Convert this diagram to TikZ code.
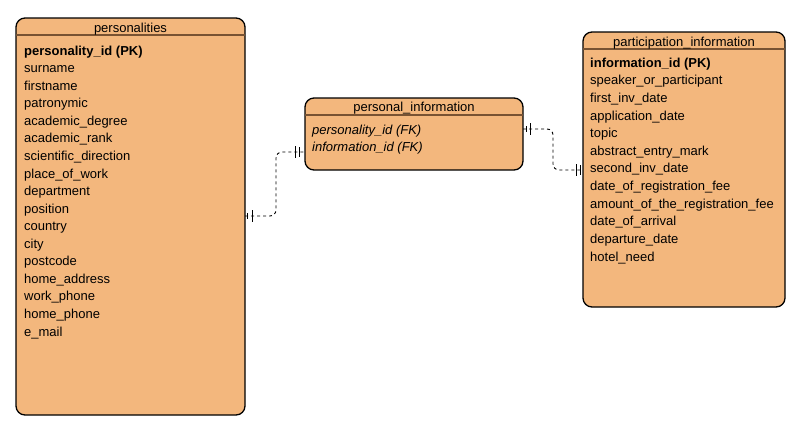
\documentclass[tikz,border=0pt]{standalone}
\usepackage{fontspec}
\setmainfont{Liberation Sans}
\definecolor{tablefill}{RGB}{243,183,125}
\definecolor{headline}{RGB}{120,82,50}
\tikzset{
  table/.style={draw=black, fill=tablefill, line width=1.3pt, rounded corners=9pt},
  sep/.style={draw=headline, line width=1.3pt},
  title/.style={anchor=mid, inner sep=0pt, font=\fontsize{13}{15}\selectfont},
  field/.style={anchor=mid west, inner sep=0pt, font=\fontsize{13}{15}\selectfont},
  pk/.style={field, font=\fontsize{13}{15}\selectfont\bfseries},
  fk/.style={field, font=\fontsize{13}{15}\selectfont\itshape},
  rel/.style={draw=black, line width=0.9pt, dashed, dash pattern=on 3pt off 3pt, rounded corners=6pt},
  bar/.style={draw=black, line width=0.9pt}
}
\begin{document}
\begin{tikzpicture}[x=1pt,y=-1pt]
\useasboundingbox (0,0) rectangle (799,432);

% personalities table
\draw[table] (16,18) rectangle (245,415);
\draw[sep] (16,35) -- (245,35);
\node[title] (t1) at (130.5,29.5) {personalities};
\node[pk] (p0) at (24,52.5) {personality\_id (PK)};
\foreach \t [count=\i] in {surname,firstname,patronymic,academic\_degree,academic\_rank,scientific\_direction,place\_of\_work,department,position,country,city,postcode,home\_address,work\_phone,home\_phone,e\_mail}
  \node[field] at (24,{52.5+\i*17.56}) {\t};

% personal_information table
\draw[table] (305,98) rectangle (523,170);
\draw[sep] (305,115) -- (523,115);
\node[title] (t2) at (414,108.5) {personal\_information};
\node[fk] (f1) at (312,131.5) {personality\_id (FK)};
\node[fk] (f2) at (312,149) {information\_id (FK)};

% participation_information table
\draw[table] (583,32) rectangle (785,307);
\draw[sep] (583,49) -- (785,49);
\node[title] (t3) at (684,43.5) {participation\_information};
\node[pk] (q0) at (590,64.5) {information\_id (PK)};
\foreach \t [count=\i] in {speaker\_or\_participant,first\_inv\_date,application\_date,topic,abstract\_entry\_mark,second\_inv\_date,date\_of\_registration\_fee,amount\_of\_the\_registration\_fee,date\_of\_arrival,departure\_date,hotel\_need}
  \node[field] at (590,{64.5+\i*17.64}) {\t};

% relationship anchors
\coordinate (a1) at (245,216);
\coordinate (a2) at (305,152);
\coordinate (b1) at (523,129);
\coordinate (b2) at (583,170);

% personalities -- personal_information
\draw[rel] (a1) -- (276,216) -- (276,152) -- (a2);
\draw[bar] (247,213) -- (247,219);
\draw[bar] (252,210) -- (252,222);
\draw[bar] (295,146) -- (295,158);
\draw[bar] (299,147) -- (299,157);

% personal_information -- participation_information
\draw[rel] (b1) -- (553,129) -- (553,170) -- (b2);
\draw[bar] (526,126) -- (526,132);
\draw[bar] (530,123) -- (530,135);
\draw[bar] (576,164) -- (576,176);
\draw[bar] (580,165) -- (580,175);
\end{tikzpicture}
\end{document}
